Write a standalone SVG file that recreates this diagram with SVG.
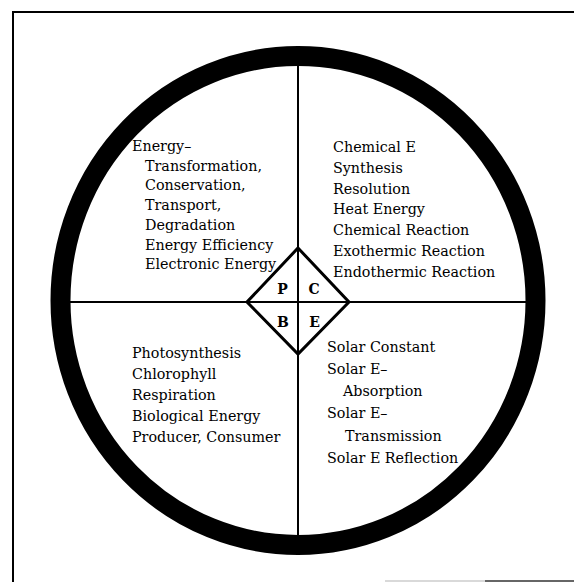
<svg xmlns="http://www.w3.org/2000/svg" width="574" height="582" viewBox="0 0 574 582">
<style>
.t{font-family:"DejaVu Serif","Liberation Serif",serif;font-size:14.3px;fill:#000}
.k{font-family:"DejaVu Serif","Liberation Serif",serif;font-size:14px;font-weight:bold;fill:#000;text-anchor:middle}
.ln{stroke:#000;stroke-width:2;fill:none}
</style>
<rect width="574" height="582" fill="#fff"/>
<g id="frame">
<path d="M13 582 V12 H574" class="ln"/>
<line x1="385" y1="581" x2="485" y2="581" stroke="#ccc" stroke-width="1.5"/>
<line x1="485" y1="581" x2="574" y2="581" stroke="#333" stroke-width="1.5"/>
</g>
<g id="ring">
<ellipse cx="298" cy="300.5" rx="237.5" ry="244.5" fill="none" stroke="#000" stroke-width="20"/>
</g>
<g id="connectors">
<line x1="298" y1="62" x2="298" y2="538" class="ln"/>
<line x1="66" y1="302" x2="530" y2="302" class="ln"/>
</g>
<g id="center">
<polygon points="298,248 349,302 298,354 247,302" fill="none" stroke="#000" stroke-width="3" stroke-linejoin="miter"/>
<text class="k" x="282.5" y="294">P</text>
<text class="k" x="314" y="294">C</text>
<text class="k" x="283" y="327">B</text>
<text class="k" x="314.5" y="327">E</text>
</g>
<g id="quadrant-p">
<text class="t" x="132" y="151">Energy–</text>
<text class="t" x="145" y="170.7">Transformation,</text>
<text class="t" x="145" y="190.4">Conservation,</text>
<text class="t" x="145" y="210">Transport,</text>
<text class="t" x="145" y="229.8">Degradation</text>
<text class="t" x="145" y="249.5">Energy Efficiency</text>
<text class="t" x="145" y="269">Electronic Energy</text>
</g>
<g id="quadrant-c">
<text class="t" x="333" y="152">Chemical E</text>
<text class="t" x="333" y="172.8">Synthesis</text>
<text class="t" x="333" y="193.6">Resolution</text>
<text class="t" x="333" y="214.4">Heat Energy</text>
<text class="t" x="333" y="235.2">Chemical Reaction</text>
<text class="t" x="333" y="256">Exothermic Reaction</text>
<text class="t" x="333" y="277">Endothermic Reaction</text>
</g>
<g id="quadrant-b">
<text class="t" x="132" y="358">Photosynthesis</text>
<text class="t" x="132" y="379">Chlorophyll</text>
<text class="t" x="132" y="400">Respiration</text>
<text class="t" x="132" y="421">Biological Energy</text>
<text class="t" x="132" y="442">Producer, Consumer</text>
</g>
<g id="quadrant-e">
<text class="t" x="327" y="352">Solar Constant</text>
<text class="t" x="327" y="374">Solar E–</text>
<text class="t" x="343" y="396">Absorption</text>
<text class="t" x="327" y="418">Solar E–</text>
<text class="t" x="345" y="441">Transmission</text>
<text class="t" x="327" y="463">Solar E Reflection</text>
</g>
</svg>
